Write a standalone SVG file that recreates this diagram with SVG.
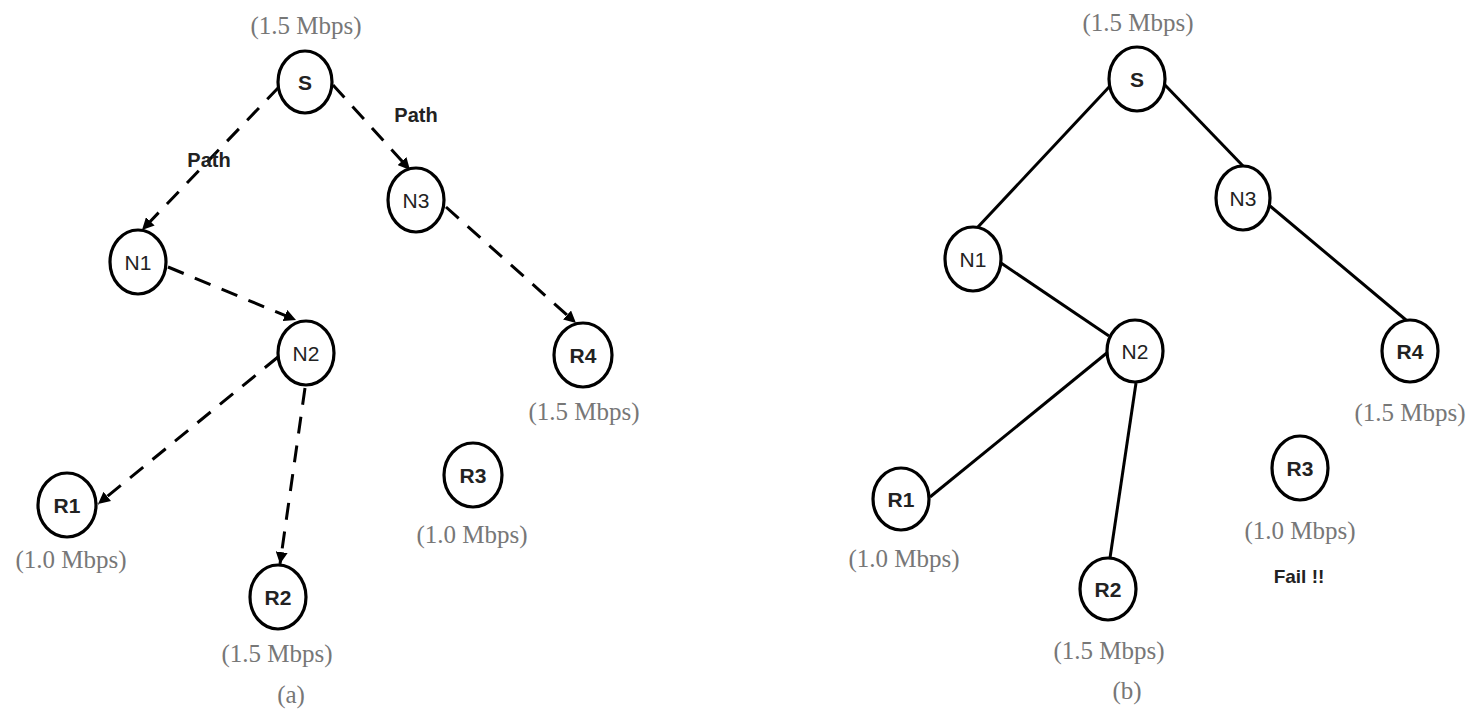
<svg xmlns="http://www.w3.org/2000/svg" width="1471" height="712" viewBox="0 0 1471 712">
<defs>
<marker id="arr" viewBox="0 0 10 10" refX="10" refY="5" markerWidth="4" markerHeight="4" orient="auto" markerUnits="strokeWidth">
<path d="M0,0 L10,5 L0,10 z" fill="#000"/>
</marker>
<style>
.node{fill:#fff;stroke:#000;stroke-width:3.2}
.lbl{font-family:"Liberation Sans",Arial,sans-serif;font-size:21px;text-anchor:middle;fill:#222}
.b{font-weight:bold}
.rate{font-family:"Liberation Serif","Times New Roman",serif;font-size:25px;text-anchor:middle;fill:#777}
.path{font-family:"Liberation Sans",Arial,sans-serif;font-size:20px;font-weight:bold;fill:#222;text-anchor:middle}
.dash{fill:none;stroke:#000;stroke-width:3;stroke-dasharray:17 12;marker-end:url(#arr)}
.solid{fill:none;stroke:#000;stroke-width:3}
</style>
</defs>
<rect width="1471" height="712" fill="#fff"/>
<g id="connectors">
<line class="dash" x1="279" y1="87" x2="142" y2="230"/>
<line class="dash" x1="333" y1="85" x2="410" y2="170"/>
<line class="dash" x1="168" y1="267" x2="296" y2="320"/>
<line class="dash" x1="278" y1="357" x2="98" y2="504"/>
<line class="dash" x1="305" y1="388" x2="280" y2="564"/>
<line class="dash" x1="446" y1="207" x2="576" y2="323"/>
<line class="solid" x1="1110" y1="86" x2="977" y2="228"/>
<line class="solid" x1="1164" y1="84" x2="1244" y2="167"/>
<line class="solid" x1="1001" y1="263" x2="1109" y2="336"/>
<line class="solid" x1="1108" y1="352" x2="930" y2="497"/>
<line class="solid" x1="1136" y1="383" x2="1110" y2="558"/>
<line class="solid" x1="1270" y1="206" x2="1406" y2="320"/>
</g>
<g id="a-S"><ellipse class="node" cx="305" cy="82" rx="27" ry="31"/><text class="lbl b" x="305" y="90">S</text></g>
<g id="a-N1"><ellipse class="node" cx="138" cy="262" rx="28" ry="32"/><text class="lbl" x="138" y="270">N1</text></g>
<g id="a-N2"><ellipse class="node" cx="306" cy="353" rx="28" ry="32"/><text class="lbl" x="306" y="361">N2</text></g>
<g id="a-N3"><ellipse class="node" cx="416" cy="200" rx="28" ry="32"/><text class="lbl" x="416" y="208">N3</text></g>
<g id="a-R1"><ellipse class="node" cx="67" cy="505" rx="29" ry="32"/><text class="lbl b" x="67" y="513">R1</text></g>
<g id="a-R2"><ellipse class="node" cx="278" cy="597" rx="28" ry="32"/><text class="lbl b" x="278" y="605">R2</text></g>
<g id="a-R3"><ellipse class="node" cx="473" cy="475" rx="29" ry="32"/><text class="lbl b" x="473" y="483">R3</text></g>
<g id="a-R4"><ellipse class="node" cx="583" cy="355" rx="29" ry="32"/><text class="lbl b" x="583" y="363">R4</text></g>
<g id="a-labels">
<text class="rate" x="306" y="34">(1.5 Mbps)</text>
<text class="path" x="209" y="167">Path</text>
<text class="path" x="416" y="122">Path</text>
<text class="rate" x="71" y="568">(1.0 Mbps)</text>
<text class="rate" x="277" y="662">(1.5 Mbps)</text>
<text class="rate" x="584" y="420">(1.5 Mbps)</text>
<text class="rate" x="472" y="543">(1.0 Mbps)</text>
<text class="rate" x="291" y="703">(a)</text>
</g>
<g id="b-S"><ellipse class="node" cx="1137" cy="79" rx="28" ry="32"/><text class="lbl b" x="1137" y="87">S</text></g>
<g id="b-N1"><ellipse class="node" cx="973" cy="259" rx="28" ry="32"/><text class="lbl" x="973" y="267">N1</text></g>
<g id="b-N2"><ellipse class="node" cx="1135" cy="351" rx="28" ry="31"/><text class="lbl" x="1135" y="359">N2</text></g>
<g id="b-N3"><ellipse class="node" cx="1243" cy="198" rx="27" ry="32"/><text class="lbl" x="1243" y="206">N3</text></g>
<g id="b-R1"><ellipse class="node" cx="901" cy="499" rx="28" ry="31"/><text class="lbl b" x="901" y="507">R1</text></g>
<g id="b-R2"><ellipse class="node" cx="1108" cy="589" rx="28" ry="31"/><text class="lbl b" x="1108" y="597">R2</text></g>
<g id="b-R3"><ellipse class="node" cx="1300" cy="468" rx="28" ry="32"/><text class="lbl b" x="1300" y="476">R3</text></g>
<g id="b-R4"><ellipse class="node" cx="1410" cy="351" rx="28" ry="31"/><text class="lbl b" x="1410" y="359">R4</text></g>
<g id="b-labels">
<text class="rate" x="1138" y="31">(1.5 Mbps)</text>
<text class="rate" x="904" y="567">(1.0 Mbps)</text>
<text class="rate" x="1109" y="659">(1.5 Mbps)</text>
<text class="rate" x="1410" y="421">(1.5 Mbps)</text>
<text class="rate" x="1300" y="539">(1.0 Mbps)</text>
<text class="path" x="1299" y="583" style="font-size:19px">Fail !!</text>
<text class="rate" x="1127" y="699">(b)</text>
</g>
</svg>
